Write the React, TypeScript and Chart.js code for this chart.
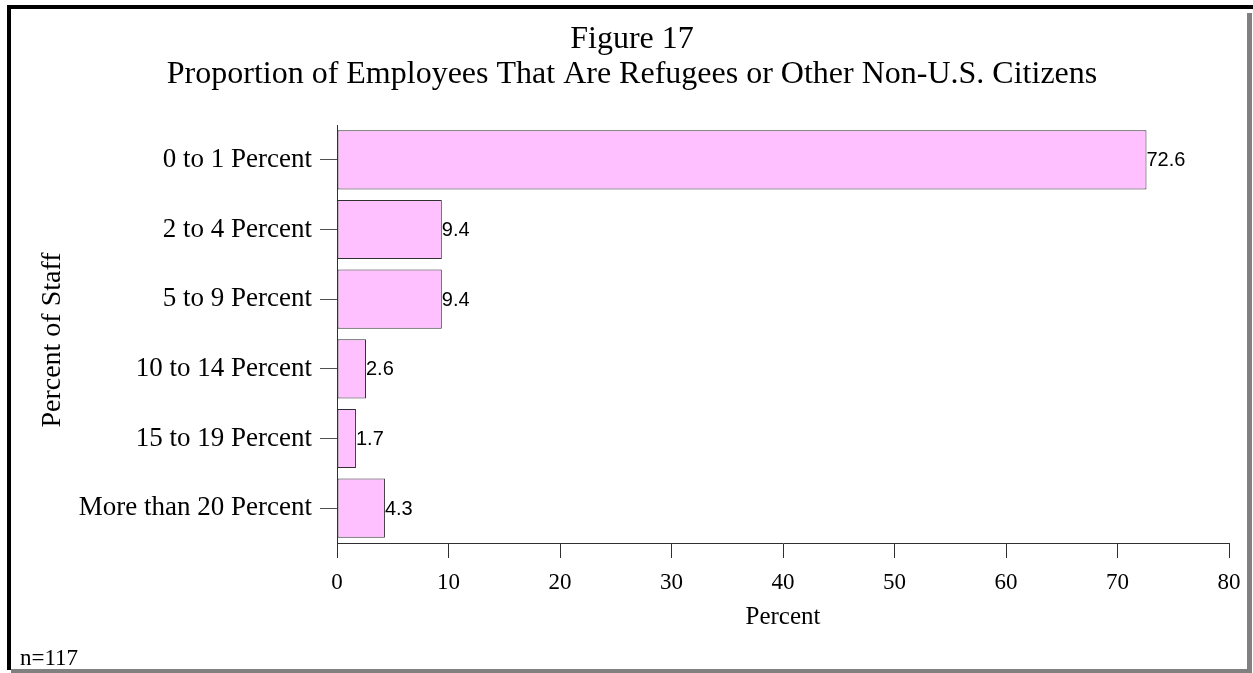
import React, { useEffect, useRef } from "react";
import { Chart, registerables } from "chart.js";

Chart.register(...registerables);

const categories = [
  "0 to 1 Percent",
  "2 to 4 Percent",
  "5 to 9 Percent",
  "10 to 14 Percent",
  "15 to 19 Percent",
  "More than 20 Percent",
];
const values = [72.6, 9.4, 9.4, 2.6, 1.7, 4.3];
const titleLines = ["Figure 17", "Proportion of Employees That Are Refugees or Other Non-U.S. Citizens"];
const xAxisTitle = "Percent";
const yAxisTitle = "Percent of Staff";
const footnote = "n=117";
const xMin = 0;
const xMax = 80;
const xStep = 10;

const SERIF = '"Liberation Serif", "Times New Roman", Times, serif';
const SANS = '"Liberation Sans", Arial, Helvetica, sans-serif';

const W = 1253;
const H = 673;

const framePlugin = {
  id: "frame",
  beforeDraw(chart: any) {
    const ctx = chart.ctx;
    ctx.save();
    ctx.fillStyle = "#ffffff";
    ctx.fillRect(0, 0, W, H);
    // black top & left
    ctx.fillStyle = "#000000";
    ctx.fillRect(7, 5, 1246, 4);
    ctx.fillRect(7, 5, 4, 665);
    // gray right & bottom
    ctx.fillStyle = "#808080";
    ctx.fillRect(1247, 13, 5, 660);
    ctx.fillRect(11, 669, 1241, 4);
    ctx.restore();
  },
  afterDraw(chart: any) {
    const ctx = chart.ctx;
    const area = chart.chartArea;
    ctx.save();
    ctx.fillStyle = "#000000";
    ctx.textAlign = "center";
    ctx.textBaseline = "alphabetic";
    ctx.font = `32px ${SERIF}`;
    ctx.fillText(titleLines[0], 632, 48);
    ctx.fillText(titleLines[1], 632, 83);
    ctx.textAlign = "left";
    ctx.font = `23px ${SERIF}`;
    ctx.fillText(footnote, 20, 665);
    // y axis title
    ctx.translate(53, (area.top + area.bottom) / 2 + 6);
    ctx.rotate(-Math.PI / 2);
    ctx.textAlign = "center";
    ctx.textBaseline = "middle";
    ctx.font = `28px ${SERIF}`;
    ctx.fillText(yAxisTitle, 0, 0);
    ctx.restore();
  },
};

const valueLabelPlugin = {
  id: "valueLabels",
  afterDatasetsDraw(chart: any) {
    const ctx = chart.ctx;
    const meta = chart.getDatasetMeta(0);
    ctx.save();
    ctx.fillStyle = "#000000";
    ctx.font = `20px ${SANS}`;
    ctx.textAlign = "left";
    ctx.textBaseline = "middle";
    meta.data.forEach((bar: any, i: number) => {
      ctx.fillText(values[i].toFixed(1), bar.x, bar.y + 1);
    });
    ctx.restore();
  },
};

export default function App() {
  const canvasRef = useRef<HTMLCanvasElement | null>(null);

  useEffect(() => {
    const canvas = canvasRef.current;
    if (!canvas) return;
    const chart = new Chart(canvas, {
      type: "bar",
      data: {
        labels: categories,
        datasets: [
          {
            data: values,
            backgroundColor: "#FFC0FF",
            borderColor: "#303030",
            borderWidth: 1,
            borderSkipped: false,
            categoryPercentage: 1,
            barPercentage: 0.85,
          },
        ],
      },
      options: {
        indexAxis: "y",
        responsive: false,
        animation: false,
        devicePixelRatio: 1,
        layout: { padding: { top: 125, left: 0, right: 24, bottom: 0 } },
        plugins: {
          legend: { display: false },
          tooltip: { enabled: false },
          title: { display: false },
        },
        scales: {
          y: {
            type: "category",
            grid: {
              offset: false,
              drawOnChartArea: false,
              drawTicks: true,
              tickLength: 17,
              color: "#505050",
            },
            border: { display: true, color: "#303030", width: 1 },
            ticks: {
              autoSkip: false,
              color: "#000000",
              padding: 8,
              font: { family: SERIF, size: 27 },
            },
            title: { display: false },
            afterFit(scale: any) {
              scale.width = 337;
            },
          },
          x: {
            type: "linear",
            min: xMin,
            max: xMax,
            grid: {
              drawOnChartArea: false,
              drawTicks: true,
              tickLength: 15,
              color: "#303030",
            },
            border: { display: true, color: "#303030", width: 1 },
            ticks: {
              stepSize: xStep,
              color: "#000000",
              padding: 11,
              maxRotation: 0,
              font: { family: SERIF, size: 23 },
            },
            title: {
              display: true,
              text: xAxisTitle,
              color: "#000000",
              font: { family: SERIF, size: 25 },
              padding: { top: 0, bottom: 41 },
            },
            afterFit(scale: any) {
              scale.height = 130;
            },
          },
        },
      },
      plugins: [framePlugin, valueLabelPlugin],
    } as any);
    return () => chart.destroy();
  }, []);

  return (
    <div style={{ position: "absolute", left: 0, top: 0, width: W, height: H }}>
      <canvas ref={canvasRef} width={W} height={H} style={{ display: "block" }} />
    </div>
  );
}
